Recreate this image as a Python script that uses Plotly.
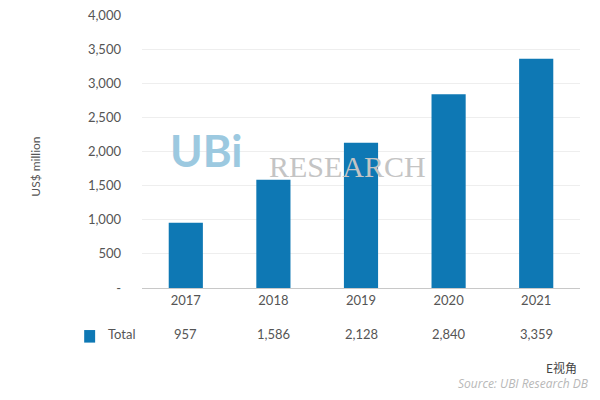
import plotly.graph_objects as go

years = ["2017", "2018", "2019", "2020", "2021"]
totals = [957, 1586, 2128, 2840, 3359]
total_labels = ["957", "1,586", "2,128", "2,840", "3,359"]
ytick_vals = [0, 500, 1000, 1500, 2000, 2500, 3000, 3500, 4000]
ytick_text = ["-", "500", "1,000", "1,500", "2,000", "2,500", "3,000", "3,500", "4,000"]

bar_color = "#0e78b4"
txt = "#555555"

fig = go.Figure()
fig.add_trace(go.Bar(x=years, y=totals, marker=dict(color=bar_color, line=dict(width=0)),
                     showlegend=False))

# watermark logo text
fig.add_annotation(x=0.060, y=0.505, xref="paper", yref="paper", text="<b>UBi</b>",
                   showarrow=False, xanchor="left", yanchor="middle",
                   font=dict(family="Lato", size=44, color="#9cc9e0"))
fig.add_annotation(x=0.285, y=0.445, xref="paper", yref="paper", text="RESEARCH",
                   showarrow=False, xanchor="left", yanchor="middle",
                   font=dict(family="Liberation Serif", size=30, color="#c4c4c4"))

# y axis title
fig.add_annotation(x=-0.244, y=0.445, xref="paper", yref="paper", text="US$ million",
                   textangle=-90, showarrow=False, xanchor="center", yanchor="middle",
                   font=dict(family="Lato", size=12, color=txt))

# table row under the axis (x given as category index)
for i, lab in enumerate(total_labels):
    fig.add_annotation(x=i, y=-0.168, xref="x", yref="paper", text=lab,
                       showarrow=False, xanchor="center", yanchor="middle",
                       font=dict(family="Lato", size=13, color=txt))
fig.add_annotation(x=-0.01, y=-0.168, xref="paper", yref="paper", text="Total",
                   showarrow=False, xanchor="right", yanchor="middle",
                   font=dict(family="Lato", size=13, color=txt))
fig.add_shape(type="rect", xref="paper", yref="paper",
              x0=-0.132, x1=-0.107, y0=-0.200, y1=-0.154,
              fillcolor=bar_color, line=dict(width=0))

fig.add_annotation(x=0.998, y=-0.290, xref="paper", yref="paper",
                   text="E视角", showarrow=False, xanchor="right", yanchor="middle",
                   font=dict(family="Noto Sans CJK SC", size=12, color="#444444"))
fig.add_annotation(x=1.025, y=-0.350, xref="paper", yref="paper",
                   text="<i>Source: UBI Research DB</i>", showarrow=False,
                   xanchor="right", yanchor="middle",
                   font=dict(family="Open Sans", size=12, color="#b8b8b8"))

# page body adds an 8px margin, so the figure is sized to fit inside 600x400
fig.update_layout(
    width=584, height=384,
    margin=dict(l=134, r=12, t=7, b=104),
    plot_bgcolor="white", paper_bgcolor="white",
    bargap=0.61,
    font=dict(family="Lato", size=12, color=txt),
)
fig.update_xaxes(type="category", automargin=False,
                 showline=True, linecolor="#c8c8c8", linewidth=1, ticks="",
                 tickfont=dict(size=13, color=txt))
fig.update_yaxes(range=[0, 4002], tickvals=ytick_vals, ticktext=ytick_text,
                 automargin=False, ticklabeloverflow="allow",
                 showgrid=True, gridcolor="#eeeeee", zeroline=False, ticks="",
                 ticklabelstandoff=20,
                 tickfont=dict(size=13, color=txt))

fig.write_html("out.html")
